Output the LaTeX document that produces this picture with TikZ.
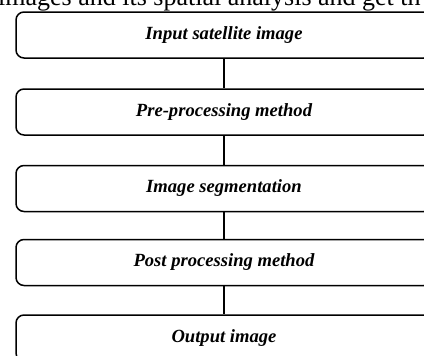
\documentclass[tikz,border=0pt]{standalone}
\usepackage{fontspec}
\setmainfont{Liberation Serif}
\begin{document}
\begin{tikzpicture}[x=1pt,y=-1pt,
  stepbox/.style={draw=black, line width=1.5pt, rounded corners=8pt, minimum width=416pt, minimum height=46pt, inner sep=0pt, font=\fontsize{18.6}{20}\selectfont\bfseries\itshape},
  link/.style={draw=black, line width=1.5pt}]
\useasboundingbox (0,0) rectangle (424,356);
\clip (0,0) rectangle (424,356);
\node[anchor=base west, inner sep=0pt, font=\fontsize{26}{28}\selectfont] (hdr) at (-2,5.5) {images and its spatial analysis and get th};
\node[stepbox] (b1) at (224,35) {Input satellite image};
\node[stepbox] (b2) at (224,112) {Pre-processing method};
\node[stepbox] (b3) at (224,188.5) {Image segmentation};
\node[stepbox] (b4) at (224,262.5) {Post processing method};
\node[stepbox] (b5) at (224,338) {Output image};
\draw[link] (b1.south) -- (b2.north);
\draw[link] (b2.south) -- (b3.north);
\draw[link] (b3.south) -- (b4.north);
\draw[link] (b4.south) -- (b5.north);
\end{tikzpicture}
\end{document}
